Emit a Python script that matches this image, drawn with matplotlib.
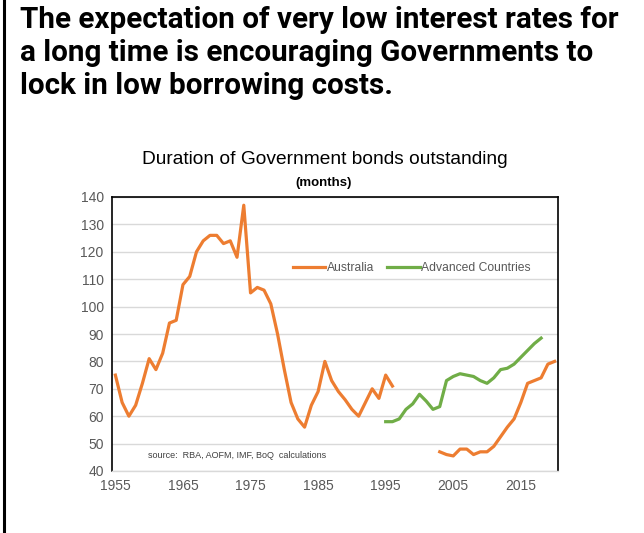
import numpy as np
import matplotlib.pyplot as plt
from matplotlib.lines import Line2D

# Duration of government bonds outstanding (months)
aus_years_1 = list(range(1955, 1997))
aus_vals_1 = [75, 65, 60, 64, 72, 81, 77, 83, 94, 95,
              108, 111, 120, 124, 126, 126, 123, 124, 118, 137,
              105, 107, 106, 101, 90, 77, 65, 59, 56, 64,
              69, 80, 73, 69, 66, 62.5, 60, 65, 70, 66.5,
              75, 71]
aus_years_2 = list(range(2003, 2021))
aus_vals_2 = [47, 46, 45.5, 48, 48, 46, 47, 47, 49, 52.5,
              56, 59, 65, 72, 73, 74, 79, 80]
adv_years = list(range(1995, 2019))
adv_vals = [58, 58, 59, 62.5, 64.5, 68, 65.5, 62.5, 63.5, 73,
            74.5, 75.5, 75, 74.5, 73, 72, 74, 77, 77.5, 79,
            81.5, 84, 86.5, 88.5]

x_ticks = [1955, 1965, 1975, 1985, 1995, 2005, 2015]
y_ticks = list(range(40, 141, 10))

ORANGE = "#ED7D31"
GREEN = "#70AD47"
GREY_TXT = "#595959"
sans = ["Liberation Sans", "DejaVu Sans"]

fig = plt.figure(figsize=(6.44, 5.33), dpi=100)
fig.patch.set_facecolor("white")

# Headline
heading = ("The expectation of very low interest rates for\n"
           "a long time is encouraging Governments to\n"
           "lock in low borrowing costs.")
fig.text(20 / 644, 1 - 6 / 533, heading, ha="left", va="top",
         fontsize=21.3, fontweight="bold", family=["Roboto", "DejaVu Sans"],
         linespacing=1.23, color="black")

# left edge rule
fig.add_artist(Line2D([4 / 644, 4 / 644], [0, 1], color="black", lw=2.2,
                      transform=fig.transFigure))

ax = fig.add_axes([112 / 644, 1 - 471 / 533, 446 / 644, 274 / 533])

ax.plot(aus_years_1, aus_vals_1, color=ORANGE, lw=2.3, label="Australia",
        solid_joinstyle="round")
ax.plot(aus_years_2, aus_vals_2, color=ORANGE, lw=2.3, solid_joinstyle="round")
ax.plot(adv_years, adv_vals, color=GREEN, lw=2.3, label="Advanced Countries",
        solid_joinstyle="round")

ax.set_xlim(1954.5, 2020.5)
ax.set_ylim(40, 140)
ax.set_xticks(x_ticks)
ax.set_yticks(y_ticks)
ax.yaxis.grid(True, color="#D9D9D9", lw=1.0)
ax.set_axisbelow(True)
ax.tick_params(length=0, pad=6, labelcolor=GREY_TXT, labelsize=10)
for lab in ax.get_xticklabels() + ax.get_yticklabels():
    lab.set_family(sans)

for side in ("left", "right", "top"):
    ax.spines[side].set_color("black")
    ax.spines[side].set_linewidth(1.2)
ax.spines["bottom"].set_color("#D9D9D9")
ax.spines["bottom"].set_linewidth(1.0)

leg = ax.legend(loc="center left", bbox_to_anchor=(0.381, 0.741), ncol=2,
                frameon=False, handlelength=2.7, handletextpad=0.1,
                columnspacing=1.1, prop={"family": sans, "size": 8.7})
for t in leg.get_texts():
    t.set_color(GREY_TXT)

ax.text(0.081, 0.055, "source:  RBA, AOFM, IMF, BoQ  calculations",
        transform=ax.transAxes, fontsize=6.5, color="#404040",
        family=sans, va="center", ha="left")

fig.text(325 / 644, 1 - 160 / 533, "Duration of Government bonds outstanding",
         ha="center", va="center", fontsize=13.8, family=sans, color="black")
fig.text(324 / 644, 1 - 183 / 533, "(months)", ha="center", va="center",
         fontsize=9.5, fontweight="bold", family=sans, color="black")

fig.savefig("out.png", dpi=100)
